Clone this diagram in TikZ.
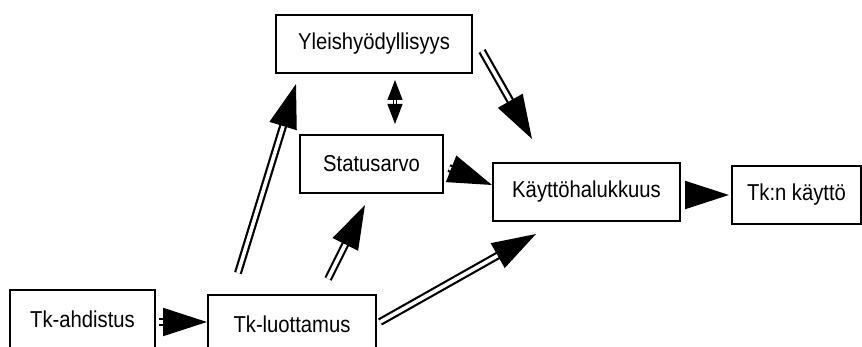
\documentclass[tikz,border=0pt]{standalone}
\usepackage{fontspec}
\setmainfont{Liberation Sans}[FakeStretch=0.88]
\usetikzlibrary{arrows.meta}
\begin{document}
\begin{tikzpicture}[x=0.5pt, y=-0.5pt,
    box/.style={draw, line width=1pt, minimum height=29pt, inner sep=0pt, font=\fontsize{11.5}{13}\selectfont},
    bigarrow/.style={double, line width=1.1pt, double distance=1.8pt, -{Triangle[length=22pt, width=14pt]}},
    twoway/.style={double, line width=0.6pt, double distance=0.9pt, {Triangle[length=10pt, width=7.5pt]}-{Triangle[length=10pt, width=7.5pt]}}]
  \clip (0,0) rectangle (862,347);
  \node[box, minimum width=72.5pt] (ahd) at (82.5,319) {Tk-ahdistus};
  \node[box, minimum width=84pt] (luo) at (292,324) {Tk-luottamus};
  \node[box, minimum width=98pt] (yle) at (374,44) {Yleishyödyllisyys};
  \node[box, minimum width=71.5pt] (sta) at (371.5,164) {Statusarvo};
  \node[box, minimum width=93.5pt] (kay) at (586.5,192) {Käyttöhalukkuus};
  \node[box, minimum width=64.5pt] (tkn) at (796.5,195) {Tk:n käyttö};

  \draw[bigarrow] ([shift={(3,3)}]ahd.east) -- ([shift={(0,-2)}]luo.west);
  \draw[bigarrow] ([shift={(31,-21)}]luo.north west) -- ([shift={(21,10)}]yle.south west);
  \draw[bigarrow] ([shift={(121,-15)}]luo.north west) -- ([shift={(66,11)}]sta.south west);
  \draw[bigarrow] ([shift={(3,-2)}]luo.east) -- ([shift={(44,12)}]kay.south west);
  \draw[twoway] ([shift={(120,6)}]yle.south west) -- ([shift={(96,-10)}]sta.north west);
  \draw[bigarrow] ([shift={(9,7)}]yle.east) -- ([shift={(40,-23)}]kay.north west);
  \draw[bigarrow] ([shift={(5,4)}]sta.east) -- ([shift={(0,-7)}]kay.west);
  \draw[bigarrow] ([shift={(5,3)}]kay.east) -- ([shift={(-2,0)}]tkn.west);
\end{tikzpicture}
\end{document}
